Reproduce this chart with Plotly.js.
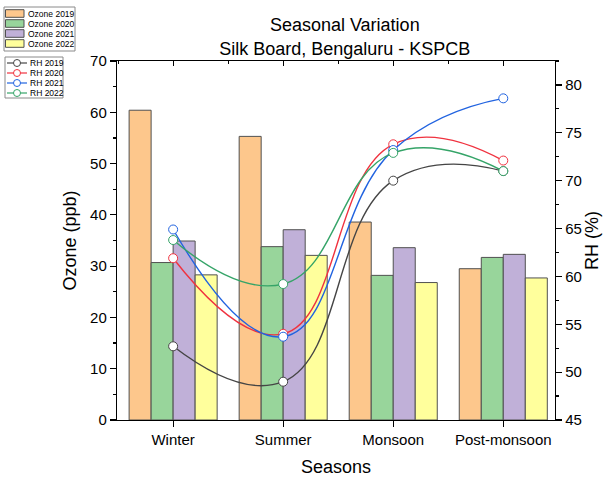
<!DOCTYPE html>
<html>
<head>
<meta charset="utf-8">
<script src="https://cdn.plot.ly/plotly-3.0.1.min.js"></script>
<style>
html,body{margin:0;padding:0;background:#fff;}
#chart{width:606px;height:480px;}
</style>
</head>
<body>
<div id="chart"></div>
<script>
const seasons = ['Winter', 'Summer', 'Monsoon', 'Post-monsoon'];

const ozone2019 = [60.4, 55.3, 38.6, 29.5];
const ozone2020 = [30.7, 33.8, 28.2, 31.7];
const ozone2021 = [34.9, 37.1, 33.6, 32.3];
const ozone2022 = [28.3, 32.1, 26.8, 27.7];

const rh2019 = [52.7, 49.0, 70.0, 71.0];
const rh2020 = [61.9, 54.0, 73.8, 72.1];
const rh2021 = [64.9, 53.7, 73.2, 78.6];
const rh2022 = [63.8, 59.2, 72.9, 71.0];

const barColors = ['#FDC78C', '#98D59B', '#C0B0D8', '#FFFF9C'];
const lineColors = ['#454545', '#F0323F', '#2163E0', '#35A468'];

const ozoneSeries = [
  ['Ozone 2019', ozone2019],
  ['Ozone 2020', ozone2020],
  ['Ozone 2021', ozone2021],
  ['Ozone 2022', ozone2022]
];
const rhSeries = [
  ['RH 2019', rh2019],
  ['RH 2020', rh2020],
  ['RH 2021', rh2021],
  ['RH 2022', rh2022]
];

const traces = [];
ozoneSeries.forEach(([name, vals], i) => {
  traces.push({
    type: 'bar', name: name, x: seasons, y: vals,
    marker: {color: barColors[i], line: {color: '#505050', width: 1}},
    hoverinfo: 'skip'
  });
});
rhSeries.forEach(([name, vals], i) => {
  traces.push({
    type: 'scatter', mode: 'lines+markers', name: name, x: seasons, y: vals,
    yaxis: 'y2',
    line: {color: lineColors[i], width: 1.4, shape: 'spline', smoothing: 1.3},
    marker: {symbol: 'circle', size: 9, color: '#ffffff', line: {color: lineColors[i], width: 1}},
    hoverinfo: 'skip'
  });
});
// helper trace so the top axis (inward ticks) is drawn
traces.push({type: 'scatter', x: [], y: [], xaxis: 'x2', showlegend: false, hoverinfo: 'skip'});

// plot-area pixel box, used to place the custom legends in paper units
const PL = 117, PR = 555, PT = 61, PB = 420;
const px = v => (v - PL) / (PR - PL);
const py = v => (PB - v) / (PB - PT);

const font = 'Arial, "Liberation Sans", sans-serif';
const shapes = [];
const annotations = [];

// legend 1: bars
shapes.push({type: 'rect', xref: 'paper', yref: 'paper', x0: px(4), x1: px(75), y0: py(7), y1: py(51),
  line: {color: '#8a8a8a', width: 1}, fillcolor: '#ffffff', layer: 'above'});
ozoneSeries.forEach(([name], i) => {
  const cy = 13.5 + 10 * i;
  shapes.push({type: 'rect', xref: 'paper', yref: 'paper', x0: px(5.5), x1: px(24), y0: py(cy - 3.8), y1: py(cy + 3.8),
    line: {color: '#505050', width: 1}, fillcolor: barColors[i], layer: 'above'});
  annotations.push({xref: 'paper', yref: 'paper', x: px(26), y: py(cy), xanchor: 'left', yanchor: 'middle',
    text: name, showarrow: false, font: {size: 8.5, family: font, color: '#000'}});
});

// legend 2: lines
shapes.push({type: 'rect', xref: 'paper', yref: 'paper', x0: px(5), x1: px(63), y0: py(57), y1: py(98),
  line: {color: '#8a8a8a', width: 1}, fillcolor: '#ffffff', layer: 'above'});
rhSeries.forEach(([name], i) => {
  const cy = 63 + 10 * i;
  shapes.push({type: 'line', xref: 'paper', yref: 'paper', x0: px(7), x1: px(27), y0: py(cy), y1: py(cy),
    line: {color: lineColors[i], width: 1.2}, layer: 'above'});
  shapes.push({type: 'circle', xref: 'paper', yref: 'paper', x0: px(13.5), x1: px(20.5), y0: py(cy - 3.5), y1: py(cy + 3.5),
    line: {color: lineColors[i], width: 1}, fillcolor: '#ffffff', layer: 'above'});
  annotations.push({xref: 'paper', yref: 'paper', x: px(28), y: py(cy), xanchor: 'left', yanchor: 'middle',
    text: name, showarrow: false, font: {size: 8.5, family: font, color: '#000'}});
});

const layout = {
  width: 606, height: 480,
  margin: {l: PL, r: 606 - PR, t: PT, b: 480 - PB, autoexpand: false},
  paper_bgcolor: '#fff', plot_bgcolor: '#fff',
  font: {family: font, color: '#000'},
  barmode: 'group', bargap: 0.2, bargroupgap: 0,
  showlegend: false,
  shapes: shapes,
  annotations: annotations,
  title: {
    text: 'Seasonal Variation<br>Silk Board, Bengaluru - KSPCB',
    font: {size: 18, family: font, color: '#000'},
    xref: 'paper', x: 0.52, xanchor: 'center',
    yref: 'container', y: 0.935, yanchor: 'top'
  },
  xaxis: {
    type: 'category', range: [-0.51, 3.47],
    showline: true, linecolor: '#000', linewidth: 1.2, mirror: true,
    ticks: 'outside', ticklen: 6, tickcolor: '#000', tickwidth: 1.2,
    minor: {ticks: 'outside', ticklen: 3, dtick: 0.5, tick0: 0, tickcolor: '#000'},
    showgrid: false, zeroline: false,
    tickfont: {size: 15, family: font},
    title: {text: 'Seasons', font: {size: 18, family: font}, standoff: 13}
  },
  xaxis2: {
    overlaying: 'x', side: 'top', anchor: 'y', range: [-0.51, 3.47],
    showline: false, showticklabels: false, showgrid: false, zeroline: false,
    ticks: 'inside', ticklen: 5, tickcolor: '#000', tickwidth: 1.2, dtick: 1, tick0: 0,
    minor: {ticks: 'inside', ticklen: 3, dtick: 0.5, tick0: 0, tickcolor: '#000'}
  },
  yaxis: {
    range: [0, 70], dtick: 10,
    showline: true, linecolor: '#000', linewidth: 1.2,
    ticks: 'outside', ticklen: 6, tickcolor: '#000', tickwidth: 1.2,
    minor: {ticks: 'outside', ticklen: 3, dtick: 5, tickcolor: '#000'},
    showgrid: false, zeroline: false,
    tickfont: {size: 15, family: font},
    title: {text: 'Ozone (ppb)', font: {size: 18, family: font}, standoff: 8}
  },
  yaxis2: {
    overlaying: 'y', side: 'right', range: [45, 82.5], dtick: 5,
    showline: true, linecolor: '#000', linewidth: 1.2,
    ticks: 'outside', ticklen: 6, tickcolor: '#000', tickwidth: 1.2,
    minor: {ticks: 'outside', ticklen: 3, dtick: 2.5, tickcolor: '#000'},
    showgrid: false, zeroline: false,
    tickfont: {size: 15, family: font},
    title: {text: 'RH (%)', font: {size: 18, family: font}, standoff: 1}
  }
};

Plotly.newPlot('chart', traces, layout, {staticPlot: true, displayModeBar: false});
</script>
</body>
</html>
